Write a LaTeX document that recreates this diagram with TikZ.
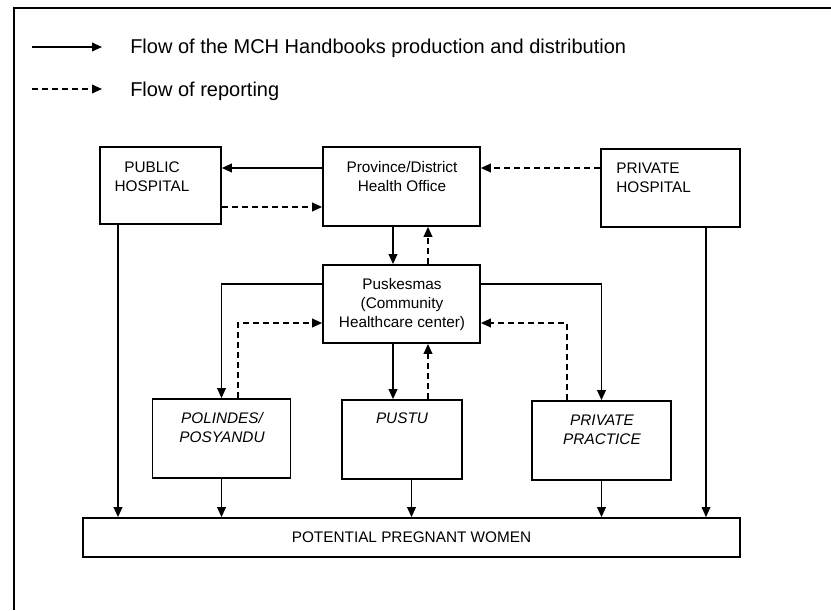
\documentclass[tikz,border=0pt]{standalone}
\usepackage{fontspec}
\setmainfont{Liberation Sans}
\usetikzlibrary{arrows.meta}
\begin{document}
\begin{tikzpicture}[x=0.75pt,y=-0.75pt,
  box/.style 2 args={draw, line width=1.3pt, minimum width=#1*0.75pt, minimum height=#2*0.75pt, inner sep=0pt},
  txt/.style={inner sep=0pt, align=center, font=\fontsize{11.5}{14.25}\selectfont},
  itxt/.style={txt, font=\fontsize{11.5}{14.25}\selectfont\itshape},
  leg/.style={inner sep=0pt, anchor=base west, font=\fontsize{15}{17}\selectfont},
  flow/.style={line width=1.2pt, -{Triangle[length=7.5pt,width=6.5pt]}},
  report/.style={line width=1.2pt, dash pattern=on 4.5pt off 3pt, -{Triangle[length=7.5pt,width=6.5pt]}},
  frame/.style={line width=1.4pt}]
\useasboundingbox (0,0) rectangle (831,610);

% outer frame (top and left sides)
\coordinate (fa) at (14,610);
\coordinate (fb) at (14,8);
\coordinate (fc) at (831,8);
\draw[frame] (fa) -- (fb) -- (fc);

% legend
\coordinate (l1a) at (32,47);
\coordinate (l1b) at (102,47);
\coordinate (l2a) at (32,89);
\coordinate (l2b) at (102,89);
\draw[flow] (l1a) -- (l1b);
\draw[report] (l2a) -- (l2b);
\node[leg] (lt1) at (130,54) {Flow of the MCH Handbooks production and distribution};
\node[leg] (lt2) at (130,96) {Flow of reporting};

% boxes
\node[box={121}{77}] (pub) at (160.5,185.5) {};
\node[box={157}{79}] (pdo) at (401.5,186.5) {};
\node[box={139}{78}] (prh) at (670.5,188) {};
\node[box={157}{78}] (pusk) at (401.5,304) {};
\node[box={138}{79}] (pol) at (221.5,438.5) {};
\node[box={120}{79}] (pustu) at (402,439.5) {};
\node[box={139}{79}] (pp) at (601.5,440.5) {};
\node[box={657}{39}] (ppw) at (411.5,537.5) {};

% texts
\node[txt, anchor=north] (pubt) at (152,161.5) {PUBLIC\\HOSPITAL};
\node[txt, anchor=north] (pdot) at (402,161.5) {Province/District\\Health Office};
\node[txt, anchor=north west, align=left] (prht) at (616,162.5) {PRIVATE\\HOSPITAL};
\node[txt, anchor=north] (puskt) at (402,278.5) {Puskesmas\\(Community\\Healthcare center)};
\node[itxt, anchor=north] (polt) at (222,412.5) {POLINDES/\\POSYANDU};
\node[itxt, anchor=north] (pustut) at (402,412.5) {PUSTU};
\node[itxt, anchor=north] (ppt) at (602,414.5) {PRIVATE\\PRACTICE};
\node[txt] (ppwt) at (411.5,537.5) {POTENTIAL PREGNANT WOMEN};

% helper coordinates
\coordinate (r168) at (0,168);
\coordinate (r207) at (0,207);
\coordinate (r284) at (0,284);
\coordinate (r323) at (0,323);
\coordinate (c118) at (118,0);
\coordinate (c238) at (238,0);
\coordinate (c393) at (393,0);
\coordinate (c428) at (428,0);
\coordinate (c567) at (567,0);
\coordinate (c706) at (706,0);

% connectors
\draw[flow] (pdo.west |- r168) -- (pub.east |- r168);
\draw[report] (pub.east |- r207) -- (pdo.west |- r207);
\draw[report] (prh.west |- r168) -- (pdo.east |- r168);
\draw[flow] (pdo.south -| c393) -- (pusk.north -| c393);
\draw[report] (pusk.north -| c428) -- (pdo.south -| c428);
\draw[flow] (pusk.west |- r284) -| (pol.north);
\draw[report] (pol.north -| c238) |- (pusk.west |- r323);
\draw[flow] (pusk.east |- r284) -| (pp.north);
\draw[report] (pp.north -| c567) |- (pusk.east |- r323);
\draw[flow] (pusk.south -| c393) -- (pustu.north -| c393);
\draw[report] (pustu.north -| c428) -- (pusk.south -| c428);
\draw[flow] (pub.south -| c118) -- (ppw.north -| c118);
\draw[flow] (pol.south) -- (ppw.north -| pol.south);
\draw[flow] (pustu.south -| ppw.north) -- (ppw.north);
\draw[flow] (pp.south) -- (ppw.north -| pp.south);
\draw[flow, line width=0.9pt] (prh.south -| c706) -- (ppw.north -| c706);
\end{tikzpicture}
\end{document}
